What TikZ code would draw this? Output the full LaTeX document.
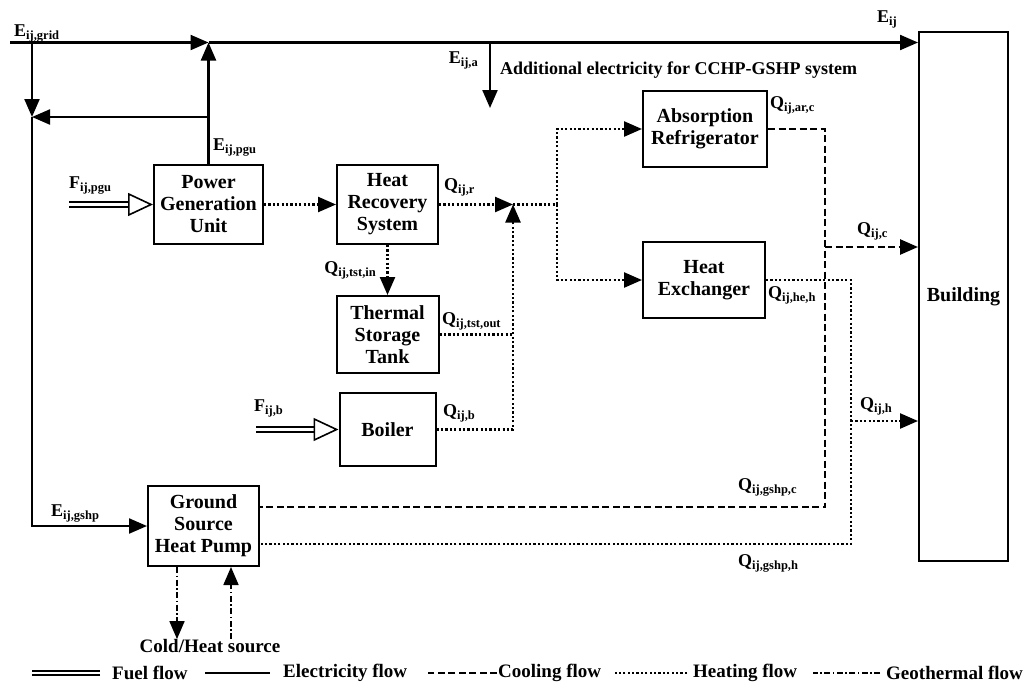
\documentclass[tikz,border=0pt]{standalone}
\usepackage{fontspec}
\setmainfont{Liberation Serif}
\usetikzlibrary{arrows.meta,positioning}

% main letter with a lowered small index
\newcommand{\flowlbl}[2]{#1\raisebox{-0.45ex}{\fontsize{12.5}{12.5}\selectfont #2}}

\begin{document}
\begin{tikzpicture}[
    x=1pt,y=-1pt,
    >={Triangle[length=18pt,width=15pt]},
    box/.style={rectangle,draw,line width=2pt,inner sep=0pt,align=center,
                font=\fontsize{20}{22}\selectfont\bfseries},
    elec/.style={line width=2.2pt},
    heat/.style={line width=2.4pt,dash pattern=on 2.2pt off 2.2pt},
    cool/.style={line width=2.6pt,dash pattern=on 7pt off 3.5pt},
    geo/.style={line width=1.8pt,dash pattern=on 6pt off 2.5pt on 1.5pt off 2.5pt},
    fuel/.style={line width=1.8pt,double,double distance=2.5pt},
    fuelhead/.style={line width=1.6pt,-{Triangle[open,length=25pt,width=23pt]}},
    lbl/.style={inner sep=0pt,font=\fontsize{18}{18}\selectfont\bfseries},
    legtext/.style={inner sep=0pt,anchor=west,font=\fontsize{19}{19}\selectfont\bfseries},
]
\useasboundingbox (0,0) rectangle (1027,691);

% components
\node[box,minimum width=109pt,minimum height=79pt] (pgu) at (208.5,204.5) {Power\\Generation\\Unit};
\node[box,minimum width=101pt,minimum height=79pt] (hrs) at (387.5,204.5) {Heat\\Recovery\\System};
\node[box,minimum width=102pt,minimum height=77pt,below=50pt of hrs] (tst) {Thermal\\Storage\\Tank};
\node[box,minimum width=96pt,minimum height=73pt,below=18pt of tst] (boil) {Boiler};
\node[box,minimum width=124pt,minimum height=76pt] (abs) at (705,129) {Absorption\\Refrigerator};
\node[box,minimum width=122pt,minimum height=76pt] (hex) at (704,280) {Heat\\Exchanger};
\node[box,minimum width=111pt,minimum height=80pt] (gshp) at (203.5,526) {Ground\\Source\\Heat Pump};
\node[box,minimum width=89pt,minimum height=529pt] (bldg) at (963.5,296.5) {Building};
\node[lbl,font=\fontsize{19}{19}\selectfont\bfseries] (src) at (210,646) {Cold/Heat source};

% junction points
\coordinate (egrid) at (10,42.5);
\coordinate (jback) at (32,117);
\coordinate (ea) at (490,42.5);
\coordinate (eaend) at (490,108);
\coordinate (jheat) at (513,204.5);
\coordinate (jsplit) at (557,204.5);
\coordinate (cbus) at (825,129);
\coordinate (cbot) at (825,507);
\coordinate (cq) at (825,247);
\coordinate (hbus) at (851,280);
\coordinate (hbot) at (851,544);
\coordinate (hq) at (851,421);
\coordinate (gout) at (177,0);
\coordinate (gin) at (231,0);
\coordinate (fpgu) at (69,0);
\coordinate (fb) at (256,0);

% electricity
\draw[elec,->] (egrid) -- (egrid -| pgu.north);
\draw[elec,->] (egrid -| pgu.north) -- (egrid -| bldg.west);
\draw[elec,->] (pgu.north) -- (egrid -| pgu.north);
\draw[elec,->] (pgu.north |- jback) -- (jback);
\draw[elec,->] (egrid -| jback) -- (jback);
\draw[elec,->] (jback) |- (gshp.west);
\draw[elec,->] (ea) -- (eaend);

% fuel
\draw[fuel] (fpgu |- pgu.west) -- ([xshift=-25pt]pgu.west);
\draw[fuelhead] ([xshift=-25pt]pgu.west) -- (pgu.west);
\draw[fuel] (fb |- boil.west) -- ([xshift=-25pt]boil.west);
\draw[fuelhead] ([xshift=-25pt]boil.west) -- (boil.west);

% heating
\draw[heat,->] (pgu) -- (hrs);
\draw[heat,->] (hrs) -- (jheat);
\draw[heat,->] (hrs) -- (tst);
\draw[heat] (tst) -- (tst -| jheat);
\draw[heat,->] (boil) -| (jheat);
\draw[heat] (jheat) -- (jsplit);
\draw[heat,->] (jsplit) |- (abs);
\draw[heat,->] (jsplit) |- (hex);
\draw[heat] (hex.east |- hbus) -- (hbus) -- (hbot) -- (gshp.east |- hbot);
\draw[heat,->] (hq) -- (hq -| bldg.west);

% cooling
\draw[cool] (abs.east |- cbus) -- (cbus) -- (cbot) -- (gshp.east |- cbot);
\draw[cool,->] (cq) -- (cq -| bldg.west);

% geothermal
\draw[geo,->] (gshp.south -| gout) -- (src.north -| gout);
\draw[geo,->] (src.north -| gin) -- (gshp.south -| gin);

% flow labels
\node[lbl,anchor=base west] (lgrid) at (14,36) {\flowlbl{E}{ij,grid}};
\node[lbl,anchor=base west] (lij) at (877,22) {\flowlbl{E}{ij}};
\node[lbl,anchor=base east] (la) at (478,63) {\flowlbl{E}{ij,a}};
\node[lbl,anchor=base west] (ladd) at (500,74) {Additional electricity for CCHP-GSHP system};
\node[lbl,anchor=base west] (lpgu) at (213,150) {\flowlbl{E}{ij,pgu}};
\node[lbl,anchor=base west] (lfpgu) at (69,188) {\flowlbl{F}{ij,pgu}};
\node[lbl,anchor=base west] (lr) at (444,190) {\flowlbl{Q}{ij,r}};
\node[lbl,anchor=base east] (ltin) at (376,273) {\flowlbl{Q}{ij,tst,in}};
\node[lbl,anchor=base west] (ltout) at (442,324) {\flowlbl{Q}{ij,tst,out}};
\node[lbl,anchor=base west] (lfb) at (254,411) {\flowlbl{F}{ij,b}};
\node[lbl,anchor=base west] (lb) at (443,416) {\flowlbl{Q}{ij,b}};
\node[lbl,anchor=base west] (larc) at (770,108) {\flowlbl{Q}{ij,ar,c}};
\node[lbl,anchor=base west] (lheh) at (768,298) {\flowlbl{Q}{ij,he,h}};
\node[lbl,anchor=base west] (lc) at (857,234) {\flowlbl{Q}{ij,c}};
\node[lbl,anchor=base west] (lh) at (860,409) {\flowlbl{Q}{ij,h}};
\node[lbl,anchor=base west] (lgshp) at (51,516) {\flowlbl{E}{ij,gshp}};
\node[lbl,anchor=base west] (lgc) at (738,490) {\flowlbl{Q}{ij,gshp,c}};
\node[lbl,anchor=base west] (lgh) at (738,566) {\flowlbl{Q}{ij,gshp,h}};

% legend
\node[legtext] (kfuel) at (112,673) {Fuel flow};
\node[legtext] (kelec) at (283,673) {Electricity flow};
\node[legtext] (kcool) at (498,673) {Cooling flow};
\node[legtext] (kheat) at (693,673) {Heating flow};
\node[legtext] (kgeo) at (886,673) {Geothermal flow};
\draw[fuel] ([xshift=-12pt]kfuel.west) -- ++(-68,0);
\draw[elec] ([xshift=-13pt]kelec.west) -- ++(-65,0);
\draw[cool] ([xshift=-1pt]kcool.west) -- ++(-69,0);
\draw[heat] ([xshift=-6pt]kheat.west) -- ++(-72,0);
\draw[geo] ([xshift=-6pt]kgeo.west) -- ++(-67,0);
\end{tikzpicture}
\end{document}
